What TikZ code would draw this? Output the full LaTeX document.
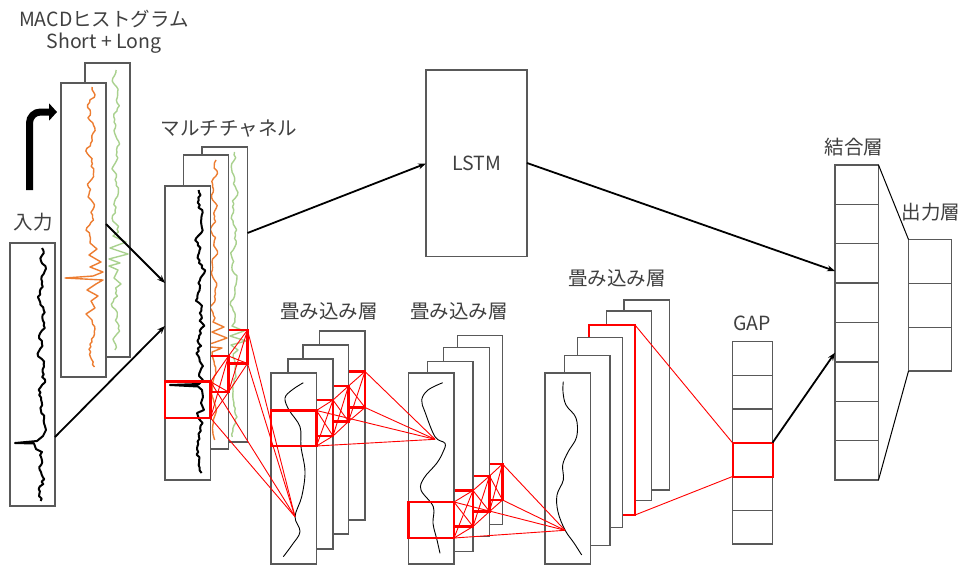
\documentclass[tikz,border=0pt]{standalone}
\usepackage{fontspec}
\setmainfont{Noto Sans CJK JP}
\usetikzlibrary{arrows.meta}
\definecolor{pgray}{HTML}{595959}
\definecolor{korange}{HTML}{ED7D31}
\definecolor{kgreen}{HTML}{A9D18E}
\definecolor{kred}{HTML}{FF0000}
\definecolor{tgray}{HTML}{404040}
\newcommand\pnl[6][]{\node[panel,#1,minimum width={(#4-#2)*1pt},minimum height={(#5-#3)*1pt}] (#6) at (#2,#3) {};}
\tikzset{
  panel/.style={draw=pgray, line width=1.3pt, fill=white, inner sep=0pt, outer sep=0pt, anchor=north west},
  kbox/.style={draw=kred, line width=2.6pt, fill=none},
  redpanel/.style={draw=kred, line width=2.6pt},
  lbl/.style={text=tgray, font=\fontsize{19.5}{23}\selectfont, inner sep=0pt},
  arr/.style={line width=1.8pt, -{Stealth[length=8pt,width=6pt]}},
  rl/.style={draw=kred, line width=0.9pt},
  sig/.style={line width=2pt, line join=round},
  osig/.style={draw=korange, line width=1.4pt, line join=round},
  gsig/.style={draw=kgreen, line width=1.4pt, line join=round},
  csig/.style={line width=0.9pt},
}
\begin{document}
\begin{tikzpicture}[x=1pt,y=-1pt]
\useasboundingbox (0,0) rectangle (960,565);
\fill[white] (0,0) rectangle (960,565);
\pgfmathsetseed{11}

% labels
\node[lbl] (tMACD) at (104,19) {MACDヒストグラム};
\node[lbl] (tSL) at (104,43) {Short + Long};
\node[lbl] (tIn) at (33,222) {入力};
\node[lbl] (tMC) at (229,129) {マルチチャネル};
\node[lbl] (tC1) at (329,311) {畳み込み層};
\node[lbl] (tC2) at (459,311) {畳み込み層};
\node[lbl] (tC3) at (617,278) {畳み込み層};
\node[lbl] (tGAP) at (752,323) {GAP};
\node[lbl] (tCat) at (854,147) {結合層};
\node[lbl] (tOut) at (931,212) {出力層};

% bent thick arrow
\coordinate (bendS) at (29.5,190);
\coordinate (bendC) at (29.5,112);
\coordinate (bendE) at (57,112);
\draw[line width=7pt, rounded corners=11pt, -{Triangle[length=8pt,width=17pt]}] (bendS) -- (bendC) -- (bendE);

% MACD panels
\pnl{85}{63}{130}{357}{macdB}
\draw[gsig] plot[domain=70:232, samples=60, variable=\t] ({116+2*sin(\t*8)+1.5*sin(\t*21)+1.2*rand},\t)
  -- (113,236) -- (126,242) -- (110,248) -- (128,254) -- (109,259) -- (120,263) -- (109,266)
  -- (118,270) -- (114,278) -- (121,284)
  -- plot[domain=288:350, samples=24, variable=\t] ({116+2*sin(\t*8)+1.5*sin(\t*21)+1.2*rand},\t);
\pnl{61}{83}{106}{377}{macdF}
\draw[osig] plot[domain=87:238, samples=60, variable=\t] ({91+2.5*sin(\t*9)+1.5*sin(\t*23+40)+1.2*rand},\t)
  -- (90,243) -- (97,249) -- (89,255) -- (101,262) -- (90,267) -- (103,272) -- (93,276)
  -- (65,278) -- (103,280) -- (96,284) -- (87,290) -- (98,296) -- (91,301) -- (95,308) -- (86,314) -- (92,320)
  -- plot[domain=324:367, samples=18, variable=\t] ({92+2*sin(\t*9)+1.2*rand},\t);

% input panel
\pnl{10}{243}{55}{506}{inp}
\draw[sig] plot[domain=248:426, samples=70, variable=\t] ({42+2*sin(\t*7)+1.5*sin(\t*19)+1.8*rand},\t)
  -- (46,430) -- (43,436) -- (37,441) -- (15,443) -- (34,443.5) -- (36,449) -- (42,452)
  -- plot[domain=455:501, samples=20, variable=\t] ({41+2*sin(\t*7)+1.5*sin(\t*19)+1.8*rand},\t);

% multichannel panels
\pnl{202}{147}{247.5}{442}{mcB}
\draw[gsig] plot[domain=152:322, samples=60, variable=\t] ({234+2*sin(\t*8)+1.2*sin(\t*21)+1*rand},\t)
  -- (232,326) -- (244,331) -- (230,336) -- (246,341) -- (231,345) -- (238,350)
  -- plot[domain=354:437, samples=30, variable=\t] ({234+2*sin(\t*8)+1*rand},\t);
\pnl[kbox]{202}{330}{247.5}{363.5}{mcBk}
\pnl{183.5}{155}{228.5}{449}{mcM}
\draw[osig] plot[domain=160:318, samples=60, variable=\t] ({214+2*sin(\t*9)+1.5*sin(\t*23+40)+1*rand},\t)
  -- (213,322) -- (224,327) -- (212,332) -- (227,338) -- (213,343) -- (200,346) -- (222,348) -- (212,352)
  -- plot[domain=356:440, samples=30, variable=\t] ({214+2*sin(\t*9)+1*rand},\t);
\pnl[kbox]{183.5}{356}{228.5}{392}{mcMk}
\pnl{165}{186}{210.5}{480}{mcF}
\draw[sig] plot[domain=190:376, samples=75, variable=\t] ({200+2*sin(\t*7)+1.5*sin(\t*19)+1.8*rand},\t)
  -- (203,380) -- (199,384) -- (170,385) -- (198,386.5) -- (202,390) -- (203,397) -- (201,403) -- (204,410) -- (197,413) -- (199,419)
  -- plot[domain=423:473, samples=20, variable=\t] ({199+2*sin(\t*7)+1.8*rand},\t);
\pnl[kbox]{165}{381.7}{210.5}{418}{mcFk}

% LSTM
\node[panel, minimum width=101pt, minimum height=186.5pt] (lstm) at (426,70) {};
\node[lbl] (tLSTM) at (lstm.center) {LSTM};

% conv1
\pnl{319.5}{331}{365}{520}{c1p4}
\pnl[kbox]{319.5}{371.5}{365}{407.5}{c1k4}
\pnl{303}{345}{348.5}{534}{c1p3}
\pnl[kbox]{303}{386}{348.5}{421.5}{c1k3}
\pnl{288}{359}{333}{549}{c1p2}
\pnl[kbox]{288}{400}{333}{436}{c1k2}
\pnl{271}{373}{316.5}{564}{c1p1}
\draw[csig] plot[smooth, tension=0.6] coordinates {(303.3,382.7) (292,390) (285,398) (289,410) (300,426.7) (301,446.7) (305,471.7) (301.7,496.7) (295,516.7) (300,531.7) (292,545) (283.3,556.7)};
\pnl[kbox]{271}{410.5}{316.5}{446}{c1k1}

% conv2
\pnl{457.5}{335.5}{502.5}{524.5}{c2p4}
\pnl[kbox]{457.5}{464}{502.5}{500}{c2k4}
\pnl{443.5}{347.5}{489.5}{536.5}{c2p3}
\pnl[kbox]{443.5}{476}{489.5}{511.5}{c2k3}
\pnl{427.5}{361.5}{473}{551.5}{c2p2}
\pnl[kbox]{427.5}{490.5}{473}{526.5}{c2k2}
\pnl{408.5}{373}{454}{564}{c2p1}
\draw[csig] plot[smooth, tension=0.6] coordinates {(442.7,382.7) (428,390) (421.7,400) (425,412) (435,436.7) (445,443.3) (443,452) (436.7,463.3) (424,478) (421,490) (433.3,506.7) (433,523.3) (437,540) (440,553.3)};
\pnl[kbox]{408.5}{502}{454}{538}{c2k1}

% conv3
\pnl{624}{300}{669.5}{490}{c3p6}
\pnl{606.5}{311}{651.5}{500.5}{c3p5}
\pnl[redpanel]{589}{325}{635}{515}{c3p4}
\pnl{577.5}{337.5}{622.5}{527.5}{c3p3}
\pnl{564.5}{355.5}{610}{545.5}{c3p2}
\pnl{545}{373}{590.5}{564}{c3p1}
\draw[csig] plot[smooth, tension=0.6] coordinates {(563.3,381.7) (563,392) (566,405) (576,418) (576.7,436.7) (568,452) (562.7,465) (563.3,480) (557,495) (558,512) (565,530) (574,543) (581.7,555)};

% GAP
\foreach \i in {0,...,5} {
  \node[panel, minimum width=40pt, minimum height=33.75pt] (gap\i) at (732.5,{341.5+\i*33.75}) {};
}
\node[draw=kred, line width=2pt, inner sep=0pt, outer sep=0pt, minimum width=40pt, minimum height=33.75pt] (gapR) at (gap3.center) {};

% concat layer
\foreach \i in {0,...,7} {
  \node[panel, minimum width=43.5pt, minimum height=39.375pt] (cat\i) at (835,{165+\i*39.375}) {};
}
% output layer
\foreach \i in {0,...,2} {
  \node[panel, minimum width=43pt, minimum height=43.83pt] (out\i) at (908.5,{239.5+\i*43.83}) {};
}
\draw[line width=1pt] (cat0.north east) -- (out0.north west);
\draw[line width=1pt] (cat7.south east) -- (out2.south west);

% black arrows
\coordinate (a1s) at (106,224);
\coordinate (a1e) at (165,283);
\coordinate (a2s) at (55,437);
\coordinate (a2e) at (165,326);
\coordinate (a3s) at (247.5,233);
\coordinate (a3e) at (426,163.5);
\coordinate (a4s) at (527,163);
\coordinate (a4e) at (835,271);
\coordinate (a5e) at (835,352.7);
\draw[arr] (a1s) -- (a1e);
\draw[arr] (a2s) -- (a2e);
\draw[arr] (a3s) -- (a3e);
\draw[arr] (a4s) -- (a4e);
\draw[arr] (gapR.north east) -- (a5e);

% red connection lines
\coordinate (t1) at (295,516.7);
\coordinate (t2) at (435,439.3);
\coordinate (t3) at (565,530.3);
\foreach \a/\b/\c/\t in {mcFk/mcMk/mcBk/t1} {
  \draw[rl] (\a.north east) -- (\b.north east) -- (\c.north east);
  \draw[rl] (\a.south east) -- (\b.south east) -- (\c.south east);
  \draw[rl] (\a.north east) -- (\b.south east) -- (\c.north east);
  \draw[rl] (\a.south east) -- (\b.north east) -- (\c.south east);
  \draw[rl] (\a.north east) -- (\t);
  \draw[rl] (\a.south east) -- (\t);
  \draw[rl] (\c.north east) -- (\t);
  \draw[rl] (\c.south east) -- (\t);
}
\foreach \a/\b/\c/\d/\t in {c1k1/c1k2/c1k3/c1k4/t2, c2k1/c2k2/c2k3/c2k4/t3} {
  \draw[rl] (\a.north east) -- (\b.north east) -- (\c.north east) -- (\d.north east);
  \draw[rl] (\a.south east) -- (\b.south east) -- (\c.south east) -- (\d.south east);
  \draw[rl] (\a.north east) -- (\b.south east) -- (\c.north east) -- (\d.south east);
  \draw[rl] (\a.south east) -- (\b.north east) -- (\c.south east) -- (\d.north east);
  \draw[rl] (\a.north east) -- (\t);
  \draw[rl] (\a.south east) -- (\t);
  \draw[rl] (\d.north east) -- (\t);
  \draw[rl] (\d.south east) -- (\t);
}
\draw[rl] (c3p4.north east) -- (gapR.north west);
\draw[rl] (c3p4.south east) -- (gapR.south west);
\end{tikzpicture}
\end{document}
